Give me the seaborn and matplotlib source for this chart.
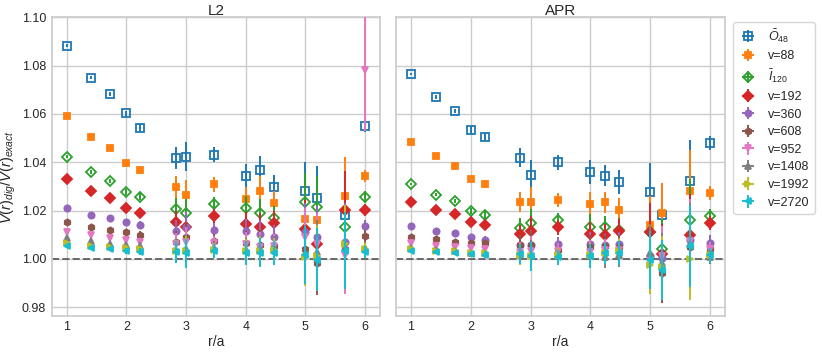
import numpy as np
import pandas as pd
import matplotlib
matplotlib.use("Agg")
import matplotlib.pyplot as plt
import seaborn as sns

# r/a positions
r_a = [1.0, 1.414, 1.732, 2.0, 2.236, 2.828, 3.0, 3.464, 4.0, 4.243, 4.472, 5.0, 5.196, 5.657, 6.0]

labels = [r'$\bar{O}_{48}$', 'v=88', r'$\bar{I}_{120}$', 'v=192', 'v=360', 'v=608',
          'v=952', 'v=1408', 'v=1992', 'v=2720']

# ---- L2 panel ----
L2_O48 = [1.0882, 1.0750, 1.0681, 1.0602, 1.0543, 1.0419, 1.0423, 1.0432, 1.0342, 1.0367, 1.0299, 1.0281, 1.0253, 1.0182, 1.0549]
L2_v88 = [1.0590, 1.0505, 1.0457, 1.0399, 1.0367, 1.0297, 1.0265, 1.0309, 1.0247, 1.0283, 1.0233, 1.0166, 1.0160, 1.0262, 1.0345]
L2_I120 = [1.0422, 1.0360, 1.0324, 1.0276, 1.0257, 1.0208, 1.0190, 1.0228, 1.0211, 1.0190, 1.0168, 1.0237, 1.0214, 1.0132, 1.0258]
L2_v192 = [1.0331, 1.0281, 1.0254, 1.0211, 1.0192, 1.0154, 1.0134, 1.0178, 1.0146, 1.0132, 1.0148, 1.0123, 1.0061, 1.0203, 1.0203]
L2_v360 = [1.0212, 1.0182, 1.0168, 1.0152, 1.0141, 1.0116, 1.0134, 1.0120, 1.0116, 1.0103, 1.0092, 1.0113, 1.0090, 1.0070, 1.0137]
L2_v608 = [1.0152, 1.0131, 1.0120, 1.0110, 1.0099, 1.0070, 1.0091, 1.0074, 1.0066, 1.0058, 1.0054, 1.0041, 0.9982, 1.0040, 1.0094]
L2_v952 = [1.0113, 1.0099, 1.0085, 1.0079, 1.0072, 1.0062, 1.0072, 1.0065, 1.0062, 1.0051, 1.0054, 1.0092, 1.0061, 1.0017, 1.0780]
L2_v1408 = [1.0085, 1.0076, 1.0062, 1.0058, 1.0054, 1.0037, 1.0040, 1.0044, 1.0037, 1.0040, 1.0044, 1.0020, 1.0030, 1.0045, 1.0045]
L2_v1992 = [1.0068, 1.0054, 1.0048, 1.0044, 1.0040, 1.0034, 1.0033, 1.0037, 1.0033, 1.0034, 1.0037, 1.0010, 1.0012, 1.0062, 1.0040]
L2_v2720 = [1.0054, 1.0046, 1.0040, 1.0033, 1.0030, 1.0030, 1.0023, 1.0033, 1.0026, 1.0026, 1.0026, 1.0017, 0.9996, 1.0034, 1.0030]

# ---- APR panel ----
APR_O48 = [1.0765, 1.0670, 1.0612, 1.0535, 1.0505, 1.0419, 1.0349, 1.0400, 1.0359, 1.0345, 1.0319, 1.0279, 1.0180, 1.0323, 1.0480]
APR_v88 = [1.0483, 1.0425, 1.0386, 1.0331, 1.0310, 1.0236, 1.0236, 1.0244, 1.0226, 1.0234, 1.0201, 1.0142, 1.0189, 1.0280, 1.0272]
APR_I120 = [1.0310, 1.0266, 1.0240, 1.0197, 1.0182, 1.0128, 1.0148, 1.0161, 1.0134, 1.0134, 1.0120, 1.0110, 1.0040, 1.0160, 1.0178]
APR_v192 = [1.0237, 1.0203, 1.0186, 1.0152, 1.0141, 1.0102, 1.0117, 1.0131, 1.0103, 1.0099, 1.0116, 1.0110, 1.0019, 1.0099, 1.0148]
APR_v360 = [1.0137, 1.0117, 1.0109, 1.0092, 1.0079, 1.0058, 1.0058, 1.0062, 1.0062, 1.0058, 1.0062, 1.0012, 1.0005, 1.0079, 1.0068]
APR_v608 = [1.0090, 1.0081, 1.0072, 1.0068, 1.0065, 1.0058, 1.0057, 1.0037, 1.0051, 1.0054, 1.0051, 1.0012, 0.9943, 1.0051, 1.0041]
APR_v952 = [1.0068, 1.0055, 1.0048, 1.0044, 1.0040, 1.0030, 1.0033, 1.0034, 1.0030, 1.0037, 1.0037, 0.9999, 1.0012, 1.0076, 1.0041]
APR_v1408 = [1.0044, 1.0037, 1.0034, 1.0026, 1.0023, 1.0017, 1.0017, 1.0012, 1.0017, 1.0007, 1.0017, 1.0023, 0.9982, 1.0060, 1.0010]
APR_v1992 = [1.0040, 1.0033, 1.0033, 1.0023, 1.0023, 1.0017, 1.0012, 1.0015, 1.0015, 1.0023, 1.0033, 0.9975, 0.9968, 1.0000, 1.0015]
APR_v2720 = [1.0033, 1.0028, 1.0023, 1.0021, 1.0017, 1.0021, 1.0012, 1.0007, 1.0012, 1.0023, 1.0023, 0.9996, 0.9954, 1.0055, 1.0015]

# error bars (half-widths)
err_L2 = [0.0006, 0.0007, 0.0008, 0.0012, 0.0015, 0.0045, 0.006, 0.003, 0.005, 0.006, 0.005, 0.012, 0.013, 0.016, 0.0025]
err_L2_v952 = [0.0006, 0.0007, 0.0008, 0.0012, 0.0015, 0.0045, 0.006, 0.003, 0.005, 0.006, 0.005, 0.012, 0.013, 0.016, 0.025]
err_APR = [0.0006, 0.0007, 0.0008, 0.0012, 0.0015, 0.004, 0.006, 0.003, 0.005, 0.0045, 0.005, 0.012, 0.0125, 0.017, 0.003]

L2_series = [L2_O48, L2_v88, L2_I120, L2_v192, L2_v360, L2_v608, L2_v952, L2_v1408, L2_v1992, L2_v2720]
APR_series = [APR_O48, APR_v88, APR_I120, APR_v192, APR_v360, APR_v608, APR_v952, APR_v1408, APR_v1992, APR_v2720]
L2_errs = [err_L2] * 6 + [err_L2_v952] + [err_L2] * 3
APR_errs = [err_APR] * 10

markers = ['s', 's', 'D', 'D', 'o', 'h', 'v', '^', '>', '<']
open_marker = [True, False, True, False, False, False, False, False, False, False]
msizes = [5.5, 5, 5.5, 5, 4.5, 4.5, 5, 5, 5, 5]

sns.set_theme(style="whitegrid")
plt.rcParams['font.family'] = ['Liberation Sans', 'DejaVu Sans']
plt.rcParams['mathtext.fontset'] = 'custom'
plt.rcParams['mathtext.rm'] = 'Liberation Sans'
plt.rcParams['mathtext.it'] = 'Liberation Sans:italic'
plt.rcParams['mathtext.bf'] = 'Liberation Sans:bold'
colors = sns.color_palette("tab10", 10)

fig = plt.figure(figsize=(8.22, 3.52), dpi=100)
ax1 = fig.add_axes([0.0629, 0.103, 0.3994, 0.848])
ax2 = fig.add_axes([0.4818, 0.103, 0.4002, 0.848], sharey=ax1)

handles = []
for ax, series, errs, title in [(ax1, L2_series, L2_errs, 'L2'), (ax2, APR_series, APR_errs, 'APR')]:
    ax.axhline(1.0, color='dimgray', ls='--', lw=1.4, zorder=1)
    for i, (vals, e) in enumerate(zip(series, errs)):
        df = pd.DataFrame({'r': r_a, 'v': vals, 'e': e})
        c = colors[i]
        h = ax.errorbar(df['r'], df['v'], yerr=df['e'], xerr=0, fmt=markers[i], color=c, ecolor=c,
                        elinewidth=1.4, capsize=0, ms=msizes[i],
                        mfc='none' if open_marker[i] else c, mec=c, mew=1.3,
                        label=labels[i], zorder=2 + i)
        if ax is ax1:
            handles.append(h)
    ax.set_title(title, fontsize=11, pad=1.5)
    ax.set_xlabel('r/a', fontsize=10, labelpad=1)
    ax.set_xlim(0.75, 6.25)
    ax.set_xticks([1, 2, 3, 4, 5, 6])
    ax.tick_params(labelsize=9, pad=4, length=0)
    for s in ax.spines.values():
        s.set_color('#cccccc')

ax1.set_ylim(0.9765, 1.10)
ax1.set_yticks([0.98, 1.00, 1.02, 1.04, 1.06, 1.08, 1.10])
ax1.yaxis.set_major_formatter(matplotlib.ticker.FormatStrFormatter('%.2f'))
ax1.set_ylabel(r'$V(r)_{dig}/V(r)_{exact}$', fontsize=10.5)
ax1.yaxis.set_label_coords(-0.103, 0.466)
plt.setp(ax2.get_yticklabels(), visible=False)

fig.legend(handles=handles, labels=labels, loc='upper left',
           bbox_to_anchor=(733 / 822, 1 - 22 / 352), borderaxespad=0,
           fontsize=9, frameon=True, handlelength=1.6, labelspacing=0.45)

fig.savefig('out.png', dpi=100)
